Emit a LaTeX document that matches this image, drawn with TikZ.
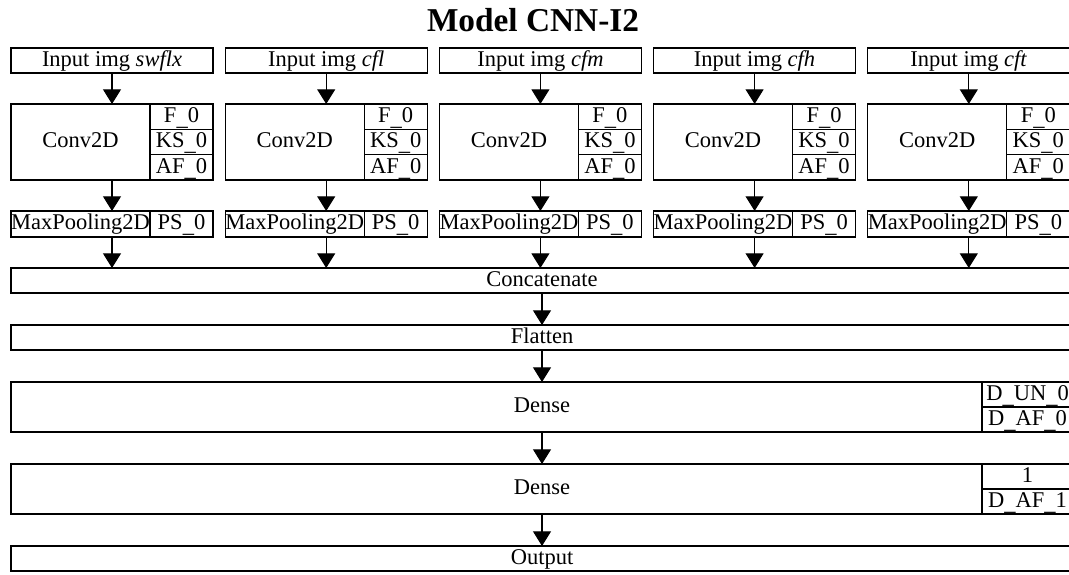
\documentclass[tikz,border=0pt]{standalone}
\usepackage{fontspec}
\setmainfont{Liberation Serif}
\usetikzlibrary{arrows.meta}
\newcommand\lbl{\fontsize{16.875}{20}\selectfont}
\newcommand\ttl{\fontsize{25}{29}\selectfont\bfseries}
% underscore set low, down on the cell border
\newcommand\us{\raisebox{-2.2pt}{\_}}
\begin{document}
\begin{tikzpicture}[x=0.75pt,y=-0.75pt,
  box/.style={draw, line width=0.9pt, inner sep=0pt, outer sep=0pt,
    text height=11.2pt, text depth=2.5pt, font=\lbl},
  flow/.style={-{Triangle[width=13.5pt,length=11pt]}, line width=0.8pt}]
\useasboundingbox (0,0) rectangle (1069,574);
\clip (0,0) rectangle (1069,574);

\node[font=\ttl, inner sep=0pt] (title) at (533,20) {Model CNN-I2};

% five parallel input branches
\foreach \nm [count=\i from 0] in {swflx,cfl,cfm,cfh,cft} {
  \pgfmathsetmacro\xl{11+214.2*\i}
  \node[box, minimum width=202*0.75pt, minimum height=25*0.75pt]
    (in\i) at (\xl+101,60.5) {Input img \textit{\nm}};
  \node[box, minimum width=139*0.75pt, minimum height=76*0.75pt]
    (cv\i) at (\xl+69.5,142) {Conv2D};
  \node[box, minimum width=63*0.75pt, minimum height=25.33*0.75pt]
    (f\i) at (\xl+170.5,116.67) {F\us0};
  \node[box, minimum width=63*0.75pt, minimum height=25.33*0.75pt]
    (ks\i) at (\xl+170.5,142) {KS\us0};
  \node[box, minimum width=63*0.75pt, minimum height=25.33*0.75pt]
    (af\i) at (\xl+170.5,167.33) {AF\us0};
  \node[box, minimum width=139*0.75pt, minimum height=26*0.75pt]
    (mp\i) at (\xl+69.5,224) {MaxPooling2D};
  \node[box, minimum width=63*0.75pt, minimum height=26*0.75pt]
    (ps\i) at (\xl+170.5,224) {PS\us0};
}

% shared layers
\node[box, minimum width=1062*0.75pt, minimum height=25*0.75pt]
  (cat) at (542,280.5) {Concatenate};
\node[box, minimum width=1062*0.75pt, minimum height=25*0.75pt]
  (flat) at (542,337.5) {Flatten};
\node[box, minimum width=1062*0.75pt, minimum height=50*0.75pt]
  (dn1) at (542,407) {Dense};
\node[box, minimum width=91*0.75pt, minimum height=25*0.75pt]
  (un0) at (1027.5,394.5) {D\us UN\us0};
\node[box, minimum width=91*0.75pt, minimum height=25*0.75pt]
  (daf0) at (1027.5,419.5) {D\us AF\us0};
\node[box, minimum width=1062*0.75pt, minimum height=50*0.75pt]
  (dn2) at (542,489) {Dense};
\node[box, minimum width=91*0.75pt, minimum height=25*0.75pt]
  (un1) at (1027.5,476.5) {1};
\node[box, minimum width=91*0.75pt, minimum height=25*0.75pt]
  (daf1) at (1027.5,501.5) {D\us AF\us1};
\node[box, minimum width=1062*0.75pt, minimum height=25*0.75pt]
  (out) at (542,558.5) {Output};

% branch connectors
\foreach \i in {0,...,4} {
  \draw[flow] (in\i.south) -- (in\i.south |- cv\i.north);
  \draw[flow] (in\i.south |- cv\i.south) -- (in\i.south |- mp\i.north);
  \draw[flow] (in\i.south |- mp\i.south) -- (in\i.south |- cat.north);
}

% main stack connectors
\draw[flow] (cat.south) -- (flat.north);
\draw[flow] (flat.south) -- (dn1.north);
\draw[flow] (dn1.south) -- (dn2.north);
\draw[flow] (dn2.south) -- (out.north);
\end{tikzpicture}
\end{document}
